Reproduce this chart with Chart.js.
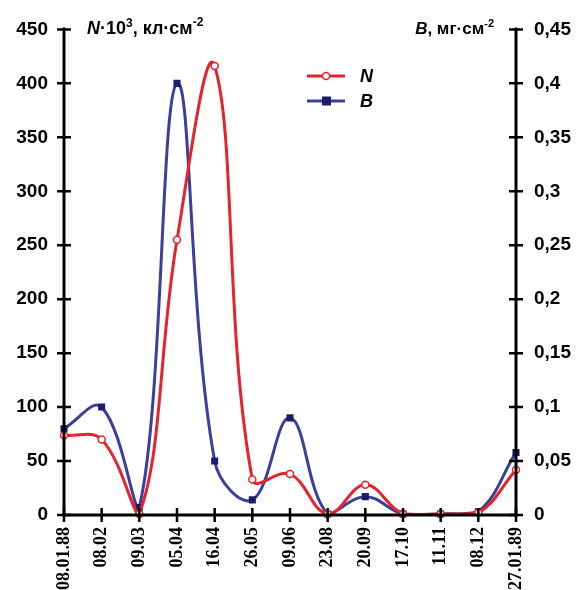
<!DOCTYPE html>
<html>
<head>
<meta charset="utf-8">
<script src="https://cdn.jsdelivr.net/npm/chart.js@4/dist/chart.umd.min.js"></script>
<style>
  html, body { margin: 0; padding: 0; background: #fff; }
  #wrap { width: 577px; height: 590px; }
</style>
</head>
<body>
<div id="wrap"><canvas id="chart" width="577" height="590"></canvas></div>
<script>
// --- data ---
const dates = ['08.01.88', '08.02', '09.03', '05.04', '16.04', '26.05', '09.06',
               '23.08', '20.09', '17.10', '11.11', '08.12', '27.01.89'];
const nValues = [74, 70, 1, 255, 416, 33, 38, 1, 28, 1, 1, 2, 42];            // N·10^3, кл·см^-2
const bValues = [0.08, 0.1, 0.007, 0.4, 0.05, 0.014, 0.09, 0.001, 0.017, 0.001, 0.001, 0.003, 0.058]; // B, мг·см^-2

const RED = '#e5232c';
const BLUE = '#3a3f9c';
const NAVY = '#1b1d6b';
const SANS = '"Liberation Sans", Arial, sans-serif';

// axis lines with ticks crossing them, axis titles and the legend
const decor = {
  id: 'decor',
  afterDraw(chart) {
    const ctx = chart.ctx;
    const { left, right, top, bottom } = chart.chartArea;
    const y = chart.scales.y, y1 = chart.scales.y1, x = chart.scales.x;
    ctx.save();
    ctx.strokeStyle = '#000';
    ctx.lineWidth = 3;
    ctx.beginPath();
    ctx.moveTo(left, top - 2); ctx.lineTo(left, bottom);
    ctx.moveTo(right, top - 2); ctx.lineTo(right, bottom);
    ctx.moveTo(left - 2, bottom); ctx.lineTo(right + 2, bottom);
    ctx.stroke();
    ctx.lineWidth = 2.5;
    ctx.beginPath();
    y.ticks.forEach(t => {
      const py = y.getPixelForValue(t.value);
      ctx.moveTo(left - 7, py); ctx.lineTo(left + 7, py);
    });
    y1.ticks.forEach(t => {
      const py = y1.getPixelForValue(t.value);
      ctx.moveTo(right - 7, py); ctx.lineTo(right + 7, py);
    });
    dates.forEach((d, i) => {
      const px = x.getPixelForValue(i);
      ctx.moveTo(px, bottom - 7); ctx.lineTo(px, bottom + 7);
    });
    ctx.stroke();

    // left axis title: N·10³, кл·см⁻²
    ctx.fillStyle = '#000';
    ctx.textBaseline = 'alphabetic';
    let tx = 87, ty = 34;
    const parts = [
      ['bold italic 18px ' + SANS, 'N', 0],
      ['bold 18px ' + SANS, '·10', 0],
      ['bold 12px ' + SANS, '3', -7],
      ['bold 18px ' + SANS, ', кл·см', 0],
      ['bold 12px ' + SANS, '-2', -8]
    ];
    parts.forEach(([f, s, dy]) => {
      ctx.font = f;
      ctx.fillText(s, tx, ty + dy);
      tx += ctx.measureText(s).width;
    });

    // right axis title: B, мг·см⁻²
    const rparts = [
      ['bold italic 17px ' + SANS, 'B', 0],
      ['bold 17px ' + SANS, ', мг·см', 0],
      ['bold 11px ' + SANS, '-2', -7]
    ];
    let total = 0;
    rparts.forEach(([f, s]) => { ctx.font = f; total += ctx.measureText(s).width; });
    tx = 494 - total;
    rparts.forEach(([f, s, dy]) => {
      ctx.font = f;
      ctx.fillText(s, tx, ty + dy);
      tx += ctx.measureText(s).width;
    });

    // legend
    const items = [
      { label: 'N', color: RED, yy: 76, marker: 'circle' },
      { label: 'B', color: BLUE, yy: 101, marker: 'square' }
    ];
    items.forEach(it => {
      ctx.strokeStyle = it.color;
      ctx.lineWidth = 3;
      ctx.beginPath();
      ctx.moveTo(307, it.yy); ctx.lineTo(345, it.yy);
      ctx.stroke();
      if (it.marker === 'circle') {
        ctx.fillStyle = '#fff';
        ctx.lineWidth = 1.5;
        ctx.beginPath();
        ctx.arc(326, it.yy, 3.5, 0, Math.PI * 2);
        ctx.fill(); ctx.stroke();
      } else {
        ctx.fillStyle = NAVY;
        ctx.fillRect(322, it.yy - 4.5, 9, 9);
      }
      ctx.fillStyle = '#000';
      ctx.font = 'bold italic 18px ' + SANS;
      ctx.textBaseline = 'middle';
      ctx.fillText(it.label, 360, it.yy + 1);
    });
    ctx.restore();
  }
};

new Chart(document.getElementById('chart'), {
  type: 'line',
  data: {
    labels: dates,
    datasets: [
      {
        label: 'N',
        data: nValues,
        yAxisID: 'y',
        borderColor: RED,
        borderWidth: 3,
        pointStyle: 'circle',
        pointRadius: 3.5,
        pointBorderWidth: 1.5,
        pointBackgroundColor: '#fff',
        pointBorderColor: RED,
        tension: 0.4,
        clip: 10
      },
      {
        label: 'B',
        data: bValues,
        yAxisID: 'y1',
        borderColor: BLUE,
        borderWidth: 3,
        pointStyle: 'rect',
        pointRadius: 5,
        pointBorderWidth: 0,
        pointBackgroundColor: NAVY,
        pointBorderColor: NAVY,
        tension: 0.4,
        clip: 10
      }
    ]
  },
  options: {
    responsive: false,
    animation: false,
    layout: { padding: { top: 27, left: 0, right: 0, bottom: 0 } },
    plugins: { legend: { display: false }, tooltip: { enabled: false } },
    scales: {
      x: {
        offset: false,
        grid: { display: false, drawTicks: false },
        border: { display: false },
        afterFit: s => { s.height = 75; },
        ticks: {
          color: '#000',
          minRotation: 90,
          maxRotation: 90,
          padding: 12,
          autoSkip: false,
          font: { family: '"Liberation Serif", "Times New Roman", serif', size: 18, weight: 'bold' }
        }
      },
      y: {
        position: 'left',
        min: 0,
        max: 450,
        grid: { display: false, drawTicks: false },
        border: { display: false },
        afterFit: s => { s.width = 64; },
        ticks: {
          stepSize: 50,
          color: '#000',
          padding: 16,
          font: { family: SANS, size: 19, weight: 'bold' }
        }
      },
      y1: {
        position: 'right',
        min: 0,
        max: 0.45,
        grid: { display: false, drawTicks: false },
        border: { display: false },
        afterFit: s => { s.width = 61; },
        ticks: {
          stepSize: 0.05,
          color: '#000',
          padding: 18,
          font: { family: SANS, size: 19, weight: 'bold' },
          callback: v => String(+v.toFixed(2)).replace('.', ',')
        }
      }
    }
  },
  plugins: [decor]
});
</script>
</body>
</html>
